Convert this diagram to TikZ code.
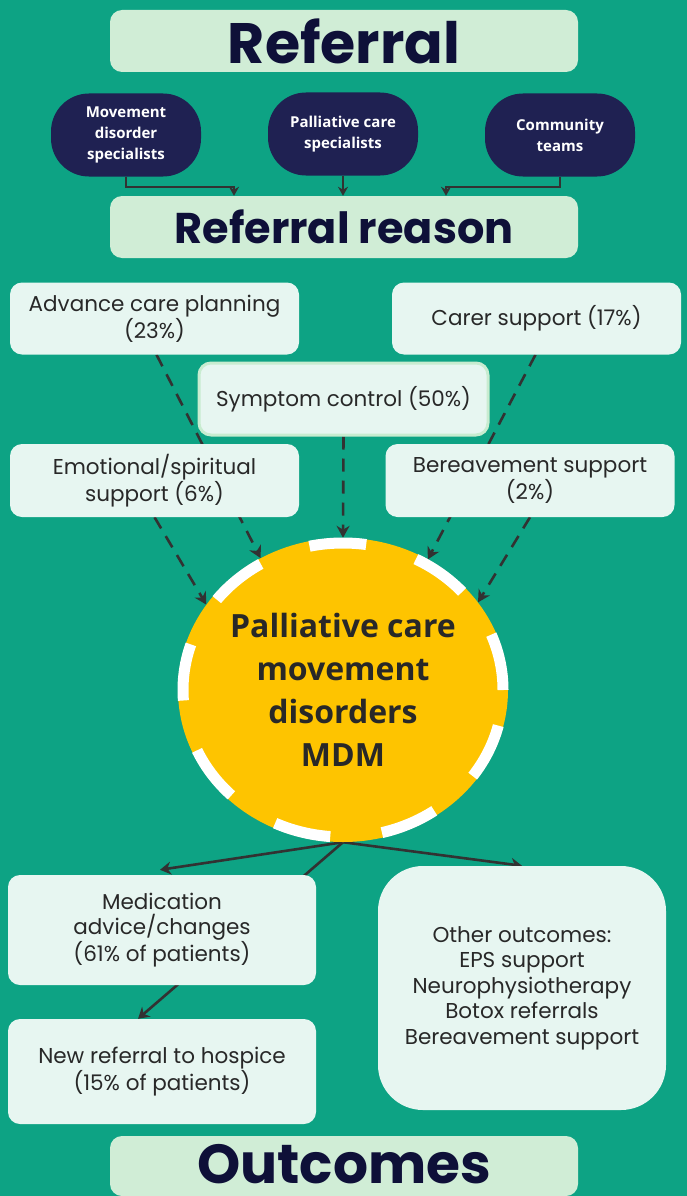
\documentclass[tikz,border=0pt]{standalone}
\usepackage{fontspec}
\setmainfont{Poppins}
\newfontfamily\hdr{Poppins}
\newfontfamily\osans{Open Sans}
\usetikzlibrary{arrows.meta,shapes.geometric}
\definecolor{bgteal}{RGB}{13,163,132}
\definecolor{hdrfill}{RGB}{208,237,214}
\definecolor{boxfill}{RGB}{231,246,241}
\definecolor{navy}{RGB}{31,33,82}
\definecolor{hdrtext}{RGB}{14,16,56}
\definecolor{gold}{RGB}{254,196,0}
\definecolor{bodytext}{RGB}{40,40,40}
\definecolor{arrowc}{RGB}{50,50,50}
\definecolor{symborder}{RGB}{200,236,208}
\pgfdeclarelayer{bgl}
\pgfdeclarelayer{backl}
\pgfsetlayers{bgl,backl,main}
\begin{document}
\begin{tikzpicture}[x=1pt,y=-1pt,
  hdrbox/.style={fill=hdrfill, rounded corners=12pt, minimum width=468pt, minimum height=62pt, inner sep=0pt, text=hdrtext, font=\hdr\bfseries},
  oval/.style={fill=navy, rounded corners=38pt, minimum width=150pt, minimum height=83pt, inner sep=0pt, text=white, align=center, font=\osans\bfseries\fontsize{15}{21}\selectfont},
  lbox/.style={fill=boxfill, rounded corners=12pt, minimum width=289pt, inner sep=0pt, text=bodytext, align=center, font=\fontsize{21.5}{25.5}\selectfont},
  conn/.style={draw=arrowc, line width=2pt, -{Stealth[length=9pt,width=10pt]}},
  dconn/.style={draw=arrowc, line width=2.6pt, dash pattern=on 13pt off 9pt, -{Stealth[length=12pt,width=13pt]}},
  oconn/.style={draw=arrowc, line width=2.6pt, -{Stealth[length=11pt,width=13pt]}}
]
\path[use as bounding box, clip] (0,0) rectangle (687,1196);
\begin{pgfonlayer}{bgl}
\fill[bgteal] (0,0) rectangle (687,1196);
\end{pgfonlayer}

% headers
\node[hdrbox] (ref) at (344,41) {\fontsize{57}{60}\selectfont Referral};
\node[hdrbox] (rr) at (344,227) {\fontsize{43}{46}\selectfont Referral reason};
\node[hdrbox, minimum height=60pt] (out) at (344,1166) {\fontsize{55}{57}\selectfont\raisebox{2pt}[\height][0pt]{Outcomes}};

% referral sources
\node[oval] (mov) at (126,135) {Movement\\disorder\\specialists};
\node[oval] (pal) at (343,134) {Palliative care\\specialists};
\node[oval] (com) at (560,135) {Community\\teams};

\coordinate (k1) at (234,187);
\coordinate (k3) at (446,187);
\draw[conn] (mov.south) |- (k1) -- (k1 |- rr.north);
\draw[conn] (pal.south) -- (pal.south |- rr.north);
\draw[conn] (com.south) |- (k3) -- (k3 |- rr.north);

% reasons
\node[lbox, minimum height=72pt] (acp) at (154.5,318.5) {Advance care planning\\(23\%)};
\node[lbox, minimum height=72pt] (car) at (536.5,318.5) {Carer support (17\%)};
\node[lbox, minimum height=72pt, draw=symborder, line width=3pt] (sym) at (343.5,399) {Symptom control (50\%)};
\node[lbox, minimum height=73pt] (emo) at (154.5,480.5) {Emotional/spiritual\\support (6\%)};
\node[lbox, minimum height=73pt] (ber) at (530,480.5) {Bereavement support\\(2\%)};

% central MDM
\node[ellipse, fill=gold, minimum width=330pt, minimum height=304pt, inner sep=0pt, align=center,
      text=bodytext, font=\osans\bfseries\fontsize{32}{43}\selectfont] (mdm) at (343,690)
      {Palliative care\\movement\\disorders\\MDM};
\draw[white, line width=11pt, dash pattern=on 57pt off 52pt] (mdm.center) ellipse [x radius=160pt, y radius=147pt];

% outcomes
\node[lbox, minimum width=308pt, minimum height=110pt] (med) at (162,930) {Medication\\advice/changes\\(61\% of patients)};
\node[lbox, minimum width=308pt, minimum height=105pt] (new) at (162,1071.5) {New referral to hospice\\(15\% of patients)};
\node[lbox, minimum width=288pt, minimum height=244pt, rounded corners=45pt] (oth) at (522,988)
  {Other outcomes:\\EPS support\\Neurophysiotherapy\\Botox referrals\\Bereavement support};

\begin{pgfonlayer}{backl}
\draw[dconn] ([xshift=2pt]acp.south) -- (mdm.122);
\draw[dconn] (emo.south) -- (mdm.148);
\draw[dconn] (sym.south) -- (mdm.90);
\draw[dconn] ([xshift=-1pt]car.south) -- (mdm.57.6);
\draw[dconn] (ber.south) -- (mdm.33.7);
\draw[oconn] (mdm.south) -- ([xshift=-2pt,yshift=5pt]med.north);
\draw[oconn] (mdm.south) -- (oth.north);
\draw[oconn] (mdm.south) -- ([xshift=-24pt]new.north);
\end{pgfonlayer}
\end{tikzpicture}
\end{document}
